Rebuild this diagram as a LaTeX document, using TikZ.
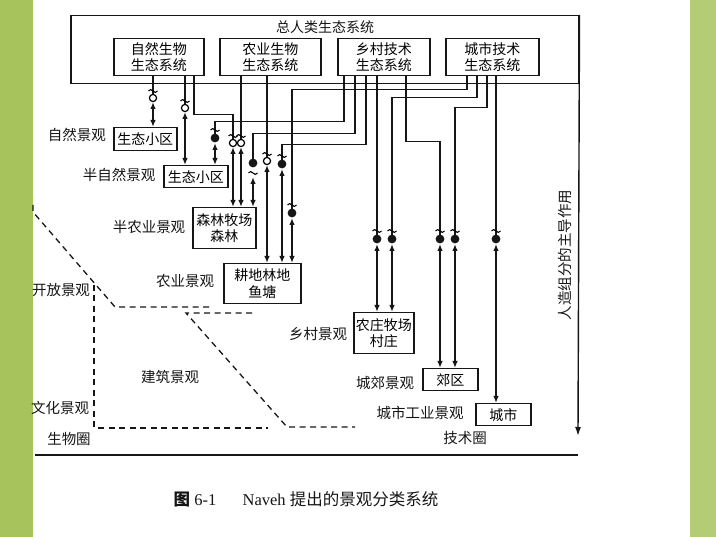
\documentclass[tikz,border=0pt]{standalone}
\usepackage{fontspec}
\setmainfont{Liberation Serif}
\newfontfamily\cjk{Noto Sans CJK SC}
\usetikzlibrary{arrows.meta, calc}
\definecolor{cband}{HTML}{A6C35C}
\definecolor{cink}{HTML}{161616}
\tikzset{
  every picture/.style={x=1pt, y=-1pt, line width=1.4pt},
  box/.style={draw=cink, line width=1.5pt, fill=white, align=center, inner sep=0pt, anchor=north west, font=\cjk\fontsize{14}{16.5}\selectfont},
  lbl/.style={inner sep=0pt, text=cink, font=\cjk\fontsize{14.5}{16}\selectfont},
  wire/.style={draw=cink, line width=1.4pt},
  dbl/.style={wire, {Latex[length=7pt,width=5.5pt]}-{Latex[length=7pt,width=5.5pt]}},
  zone/.style={draw=cink, line width=1.3pt, dash pattern=on 6pt off 4.5pt},
  pics/bio/.style={code={
    \draw[line width=1.1pt] (-4.5,#1) .. controls (-2,#1-5) and (2,#1+5) .. (4.5,#1);
    \draw[line width=1.2pt, fill=white] (0,0) circle[radius=3.6pt];}},
  pics/bio/.default=-7,
  pics/tech/.style={code={
    \draw[line width=1.1pt] (-4.5,#1) .. controls (-2,#1-5) and (2,#1+5) .. (4.5,#1);
    \fill[cink] (0,0) circle[radius=4.4pt];}},
  pics/tech/.default=-8,
}

\begin{document}
\begin{tikzpicture}
  \useasboundingbox (0,0) rectangle (716,537);
  \fill[white] (0,0) rectangle (716,537);
  \fill[cband] (0,0) rectangle (33,537);
  \fill[cband!85] (690,0) rectangle (716,537);
  % systems
  \node[box, minimum width=508pt, minimum height=68pt, fill=none] (hum) at (70,15) {};
  \node[lbl, font=\cjk\fontsize{14}{16}\selectfont] (humtitle) at (325,27) {总人类生态系统};
  \node[box, minimum width=90pt, minimum height=37pt] (natsys) at (113,38) {自然生物\\生态系统};
  \node[box, minimum width=101pt, minimum height=37pt] (agrsys) at (219,38) {农业生物\\生态系统};
  \node[box, minimum width=92pt, minimum height=37pt] (rursys) at (337,38) {乡村技术\\生态系统};
  \node[box, minimum width=93pt, minimum height=37pt] (urbsys) at (445,38) {城市技术\\生态系统};
  % landscapes
  \node[box, minimum width=63pt, minimum height=23pt] (sza) at (113,127) {生态小区};
  \node[box, minimum width=64pt, minimum height=22pt] (szb) at (163,165) {生态小区};
  \node[box, minimum width=63pt, minimum height=41pt] (slc) at (192,207) {森林牧场\\森林};
  \node[box, minimum width=77pt, minimum height=40pt] (gdl) at (223,263) {耕地林地\\鱼塘};
  \node[box, minimum width=60pt, minimum height=41pt] (nzc) at (353,312) {农庄牧场\\村庄};
  \node[box, minimum width=55pt, minimum height=22pt] (jqu) at (422,368) {郊区};
  \node[box, minimum width=55pt, minimum height=22pt] (csh) at (475,403) {城市};
  % marks on the links
  \coordinate (m1) at (153,98);  \coordinate (m2) at (185,108); \coordinate (m3) at (233,143);
  \coordinate (m4) at (241,143); \coordinate (m5) at (267,161); \coordinate (m6) at (215,138);
  \coordinate (m7) at (253,163); \coordinate (m8) at (282,164); \coordinate (m9) at (377,239);
  \coordinate (m10) at (440,239); \coordinate (m11) at (292,213); \coordinate (m12) at (392,239);
  \coordinate (m13) at (455,239); \coordinate (m14) at (496,239);
  % biological links
  \draw[wire] ([xshift=40]natsys.south west) -- (m1);
  \draw[wire] ([xshift=72]natsys.south west) -- (m2);
  \draw[wire] ([xshift=81]natsys.south west) -- ++(0,38) -| (m3);
  \draw[wire] ([xshift=22]agrsys.south west) -- (m4);
  \draw[wire] ([xshift=48]agrsys.south west) -- (m5);
  % technical links
  \draw[wire] ([xshift=7]rursys.south west) -- ++(0,45) -| (m6);
  \draw[wire] ([xshift=18]rursys.south west) -- ++(0,57) -| (m7);
  \draw[wire] ([xshift=29]rursys.south west) -- ++(0,68) -| (m8);
  \draw[wire] ([xshift=40]rursys.south west) -- (m9);
  \draw[wire] ([xshift=69]rursys.south west) -- ++(0,65) -| (m10);
  \draw[wire] ([xshift=22]urbsys.south west) -- ++(0,13) -| (m11);
  \draw[wire] ([xshift=32]urbsys.south west) -- ++(0,21) -| (m12);
  \draw[wire] ([xshift=42]urbsys.south west) -- ++(0,31) -| (m13);
  \draw[wire] ([xshift=51]urbsys.south west) -- (m14);
  % two-way arrows into the landscapes
  \draw[dbl] ([yshift=-4pt]m1) -- (m1 |- sza.north);
  \draw[dbl] ([yshift=-4pt]m2) -- (m2 |- szb.north);
  \draw[dbl] ([yshift=-4pt]m3) -- (m3 |- slc.north);
  \draw[dbl] ([yshift=-4pt]m4) -- (m4 |- slc.north);
  \draw[dbl] ([yshift=-4pt]m5) -- (m5 |- gdl.north);
  \draw[dbl] ([yshift=-5pt]m6) -- (m6 |- szb.north);
  \draw[dbl] ([yshift=-14pt]m7) -- (m7 |- slc.north);
  \draw[dbl] ([yshift=-5pt]m8) -- (m8 |- gdl.north);
  \draw[dbl] ([yshift=-5pt]m11) -- (m11 |- gdl.north);
  \draw[dbl] ([yshift=-5pt]m9) -- (m9 |- nzc.north);
  \draw[dbl] ([yshift=-5pt]m12) -- (m12 |- nzc.north);
  \draw[dbl] ([yshift=-5pt]m10) -- (m10 |- jqu.north);
  \draw[dbl] ([yshift=-5pt]m13) -- (m13 |- jqu.north);
  \draw[dbl] ([yshift=-5pt]m14) -- (m14 |- csh.north);
  \foreach \m in {1,...,5} \pic at (m\m) {bio};
  \foreach \m in {6,8,9,10,11,12,13,14} \pic at (m\m) {tech};
  \pic at (m7) {tech=10};
  % axis of human dominance
  \coordinate (axisend) at (578,436);
  \draw[wire, -{Latex[length=9pt,width=6pt]}] (hum.north east) -- (axisend);
  \node[lbl, rotate=90] (axislbl) at (565,255) {人造组分的主导作用};
  % landscape names
  \foreach \t/\x/\y/\n in {自然景观/77/135/lziran, 半自然景观/119/175/lbanzr, 半农业景观/149/227/lbannong,
      农业景观/185/281/lnong, 开放景观/61/290/lkaifang, 建筑景观/170/377/ljianzhu, 文化景观/60/408/lwenhua,
      生物圈/69/439/lshengwu, 乡村景观/318/334/lxiangcun, 城郊景观/385/383/lchengjiao,
      城市工业景观/420/413/lchengshi, 技术圈/465/438/ljishu}
    \node[lbl] (\n) at (\x,\y) {\t};
  % dashed borders
  \draw[zone] (33,205) -- (33,212) -- (115,307) -- (213,307);
  \draw[zone] (252,313) -- (186,313) -- (287,427) -- (355,427);
  \draw[zone] (94,285) -- (94,428) -- (268,428);
  \draw[line width=1.6pt, cink] (35,455) -- (578,455);
  % caption
  \node[font=\fontsize{16.5}{19}\selectfont, text=cink] (caption) at (306,499)
    {{\cjk\bfseries 图}\ 6-1\hspace{1.6em}Naveh\ {\cjk 提出的景观分类系统}};
\end{tikzpicture}
\end{document}
